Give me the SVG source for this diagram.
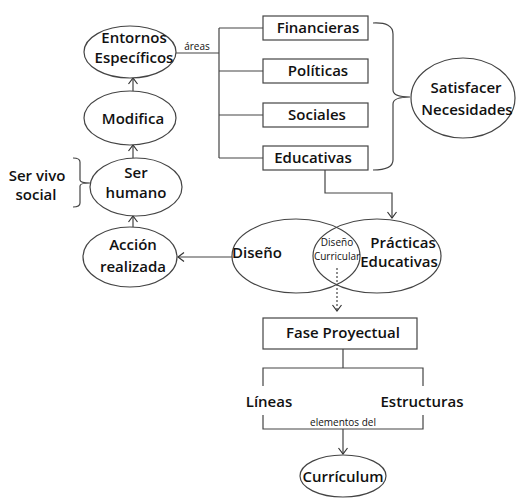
<svg xmlns="http://www.w3.org/2000/svg" width="516" height="500" viewBox="0 0 516 500">
<defs>
<marker id="arr" markerWidth="12" markerHeight="12" refX="10" refY="6" orient="auto" markerUnits="userSpaceOnUse">
<polyline points="4,1.5 10,6 4,10.5" fill="none" stroke="#333" stroke-width="1.2"/>
</marker>
<style>
.sh{fill:#fff;stroke:#444;stroke-width:1.2}
.ln{fill:none;stroke:#444;stroke-width:1.2}
.t{font-family:"Open Sans","Noto Sans",sans-serif;font-weight:600;font-size:15px;fill:#111;text-anchor:middle}
.s{font-family:"Open Sans","Noto Sans",sans-serif;font-size:10px;fill:#111;text-anchor:middle}
</style>
</defs>
<rect width="516" height="500" fill="#fff"/>
<g id="connectors">
<line class="ln" x1="133" y1="227" x2="133" y2="216" marker-end="url(#arr)"/>
<line class="ln" x1="133" y1="158" x2="133" y2="145" marker-end="url(#arr)"/>
<line class="ln" x1="133" y1="91" x2="133" y2="78" marker-end="url(#arr)"/>
<polyline class="ln" points="176,53 219,53"/>
<line class="ln" x1="219" y1="28" x2="219" y2="158"/>
<line class="ln" x1="219" y1="28" x2="263" y2="28"/>
<line class="ln" x1="219" y1="71" x2="263" y2="71"/>
<line class="ln" x1="219" y1="115" x2="263" y2="115"/>
<line class="ln" x1="219" y1="158" x2="263" y2="158"/>
<path class="ln" d="M373,23 Q393,22 393,34 L393,90 Q393,97 410,97 Q393,97 393,104 L393,160 Q393,170 373,170"/>
<path class="ln" d="M73,158 Q80,158 80,162 L80,180 Q80,183 90,183 Q80,183 80,186 L80,203 Q80,207 73,207"/>
<polyline class="ln" points="325,170 325,193 392,193 392,218" marker-end="url(#arr)"/>
<line class="ln" x1="232" y1="257" x2="178" y2="257" marker-end="url(#arr)"/>
<line class="ln" x1="337" y1="268" x2="337" y2="311" stroke-dasharray="2,2" marker-end="url(#arr)"/>
<polyline class="ln" points="343,349 343,368"/>
<polyline class="ln" points="263,386 263,368 423,368 423,386"/>
<polyline class="ln" points="263,415 263,429 423,429 423,415"/>
<line class="ln" x1="343" y1="429" x2="343" y2="454" marker-end="url(#arr)"/>
<text class="s" x="197" y="50">áreas</text>
<text class="s" x="343" y="426" font-size="11">elementos del</text>
</g>
<g id="entornos">
<ellipse class="sh" cx="130" cy="52" rx="46" ry="26"/>
<text class="t" x="134" y="43">Entornos</text>
<text class="t" x="134" y="63">Específicos</text>
</g>
<g id="modifica">
<ellipse class="sh" cx="130" cy="118" rx="46" ry="27"/>
<text class="t" x="133" y="124">Modifica</text>
</g>
<g id="ser-humano">
<ellipse class="sh" cx="136" cy="187" rx="46" ry="29"/>
<text class="t" x="136" y="178">Ser</text>
<text class="t" x="136" y="198">humano</text>
</g>
<g id="ser-vivo">
<text class="t" x="37" y="181" font-size="13">Ser vivo</text>
<text class="t" x="36" y="200" font-size="13">social</text>
</g>
<g id="accion">
<ellipse class="sh" cx="130" cy="257" rx="47" ry="30"/>
<text class="t" x="133" y="250">Acción</text>
<text class="t" x="133" y="272">realizada</text>
</g>
<g id="financieras">
<rect class="sh" x="263" y="16" width="105" height="24"/>
<text class="t" x="318" y="33">Financieras</text>
</g>
<g id="politicas">
<rect class="sh" x="263" y="59" width="105" height="24"/>
<text class="t" x="318" y="76">Políticas</text>
</g>
<g id="sociales">
<rect class="sh" x="263" y="103" width="105" height="24"/>
<text class="t" x="317" y="120">Sociales</text>
</g>
<g id="educativas">
<rect class="sh" x="263" y="146" width="105" height="24"/>
<text class="t" x="313" y="163">Educativas</text>
</g>
<g id="satisfacer">
<ellipse class="sh" cx="463" cy="98" rx="52" ry="40"/>
<text class="t" x="466" y="93">Satisfacer</text>
<text class="t" x="467" y="115">Necesidades</text>
</g>
<g id="diseno">
<ellipse class="ln" cx="296" cy="256" rx="64" ry="37"/>
<text class="t" x="257" y="258">Diseño</text>
</g>
<g id="practicas">
<ellipse class="ln" cx="377" cy="256" rx="64" ry="37"/>
<text class="t" x="403" y="248">Prácticas</text>
<text class="t" x="399" y="267">Educativas</text>
</g>
<g id="diseno-curricular">
<text class="s" x="337" y="246">Diseño</text>
<text class="s" x="337" y="260">Curricular</text>
</g>
<g id="fase">
<rect class="sh" x="263" y="318" width="154" height="31"/>
<text class="t" x="343" y="338">Fase Proyectual</text>
</g>
<g id="lineas">
<text class="t" x="269" y="407">Líneas</text>
</g>
<g id="estructuras">
<text class="t" x="422" y="407">Estructuras</text>
</g>
<g id="curriculum">
<ellipse class="sh" cx="343" cy="476" rx="43" ry="21"/>
<text class="t" x="343" y="482">Currículum</text>
</g>
</svg>
